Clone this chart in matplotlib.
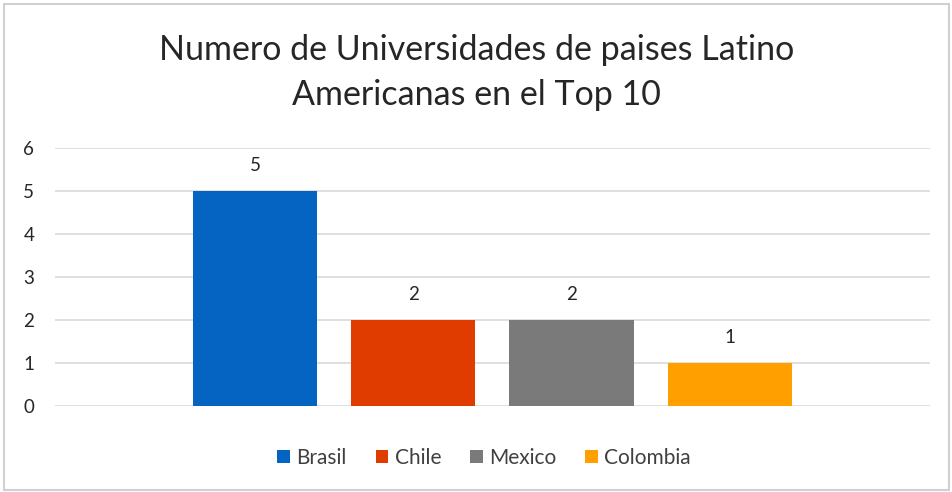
import matplotlib.pyplot as plt
from matplotlib.patches import Rectangle

paises = ["Brasil", "Chile", "Mexico", "Colombia"]
universidades = [5, 2, 2, 1]
colores = ["#0563C1", "#E03C00", "#7A7A7A", "#FF9F00"]
yticks = [0, 1, 2, 3, 4, 5, 6]

plt.rcParams['font.family'] = ['Lato', 'DejaVu Sans']

fig = plt.figure(figsize=(9.53, 4.92), dpi=100)
ax = fig.add_axes([0.0577, 0.1748, 0.918, 0.5244])

for i, (p, v, c) in enumerate(zip(paises, universidades, colores)):
    ax.bar(i, v, width=0.785, color=c, label=p, zorder=3)
    ax.text(i, v + 0.4, str(v), ha="center", va="bottom", fontsize=13.5, color="#262626")

ax.set_xlim(-1.265, 4.265)
ax.set_ylim(0, 6)
ax.set_yticks(yticks)
ax.set_yticklabels([str(t) for t in yticks], fontsize=13.5, color="#262626")
ax.set_xticks([])
ax.tick_params(axis="y", length=0, pad=15)
ax.grid(axis="y", color="#D9D9D9", linewidth=1.2, zorder=0)
for s in ax.spines.values():
    s.set_visible(False)

fig.text(0.5, 0.853, "Numero de Universidades de paises Latino\nAmericanas en el Top 10",
         ha="center", va="center", fontsize=24.5, color="#262626", linespacing=1.5)

fig.legend(loc="center", bbox_to_anchor=(0.508, 0.069), ncol=4, frameon=False,
           fontsize=15, handlelength=0.6, handleheight=0.6, handletextpad=0.3,
           columnspacing=1.4, labelcolor="#404040")

fig.patches.append(Rectangle((0.004, 0.004), 0.992, 0.988, transform=fig.transFigure,
                             fill=False, edgecolor="#D0D0D0", linewidth=1.5))

fig.savefig("out.png", dpi=100)
